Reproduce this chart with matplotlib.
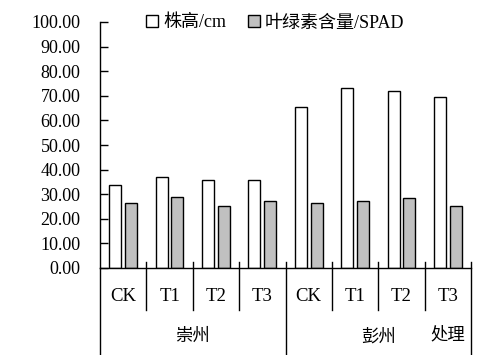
import matplotlib
matplotlib.use("Agg")
import matplotlib.pyplot as plt
import matplotlib.transforms as mtransforms
import numpy as np

plt.rcParams['font.family'] = ['Liberation Serif', 'Noto Sans CJK SC']

groups = ['崇州', '彭州']
treatments = ['CK', 'T1', 'T2', 'T3', 'CK', 'T1', 'T2', 'T3']
height_cm = [33.7, 37.0, 35.7, 35.8, 65.4, 73.0, 72.0, 69.4]
spad = [26.4, 28.9, 25.2, 27.1, 26.4, 27.1, 28.3, 25.1]
series_names = ['株高/cm', '叶绿素含量/SPAD']
axis_title = '处理'
yticks = [0, 10, 20, 30, 40, 50, 60, 70, 80, 90, 100]

fig = plt.figure(figsize=(4.88, 3.55), dpi=100)
ax = fig.add_axes([100/488, 87/355, 371/488, 246/355])

x = np.arange(len(treatments))
w = 0.26
off = 0.17
ax.bar(x - off, height_cm, w, color='white', edgecolor='black', linewidth=1.0, label=series_names[0])
ax.bar(x + off, spad, w, color='#C0C0C0', edgecolor='black', linewidth=1.0, label=series_names[1])

ax.set_xlim(-0.5, len(treatments) - 0.5)
ax.set_ylim(0, 100)
ax.set_yticks(yticks)
ax.set_yticklabels([f'{v:.2f}' for v in yticks], fontsize=13)
ax.tick_params(axis='y', direction='in', length=6, width=1, pad=14)
ax.set_xticks([])
for s in ['top', 'right']:
    ax.spines[s].set_visible(False)
for s in ['left', 'bottom']:
    ax.spines[s].set_linewidth(1.0)

trans = mtransforms.blended_transform_factory(ax.transData, ax.transAxes)
n = len(treatments)
half = n // 2
for k in range(n + 1):
    xb = k - 0.5
    if k == 0:
        ax.plot([xb, xb], [0, -0.354], transform=trans, color='black', lw=1.0, clip_on=False)
    elif k == half or k == n:
        ax.plot([xb, xb], [0.0244, -0.354], transform=trans, color='black', lw=1.0, clip_on=False)
    else:
        ax.plot([xb, xb], [0.0244, -0.171], transform=trans, color='black', lw=1.0, clip_on=False)

for i, t in enumerate(treatments):
    ax.text(i, -0.114, t, transform=trans, ha='center', va='center', fontsize=13.5)

for gi, g in enumerate(groups):
    ax.text(gi * half + (half - 1) / 2, -0.28, g, transform=trans, ha='center', va='center', fontsize=12.5)

ax.text(n - 1, -0.272, axis_title, transform=trans, ha='center', va='center', fontsize=12.5)

leg = ax.legend(loc='center left', bbox_to_anchor=(146/488, 1 - 23/355), bbox_transform=fig.transFigure,
                ncol=2, frameon=False, fontsize=13, handlelength=0.65, handleheight=0.65,
                handletextpad=0.3, columnspacing=1.2, borderaxespad=0, borderpad=0)

fig.savefig('out.png', dpi=100)
